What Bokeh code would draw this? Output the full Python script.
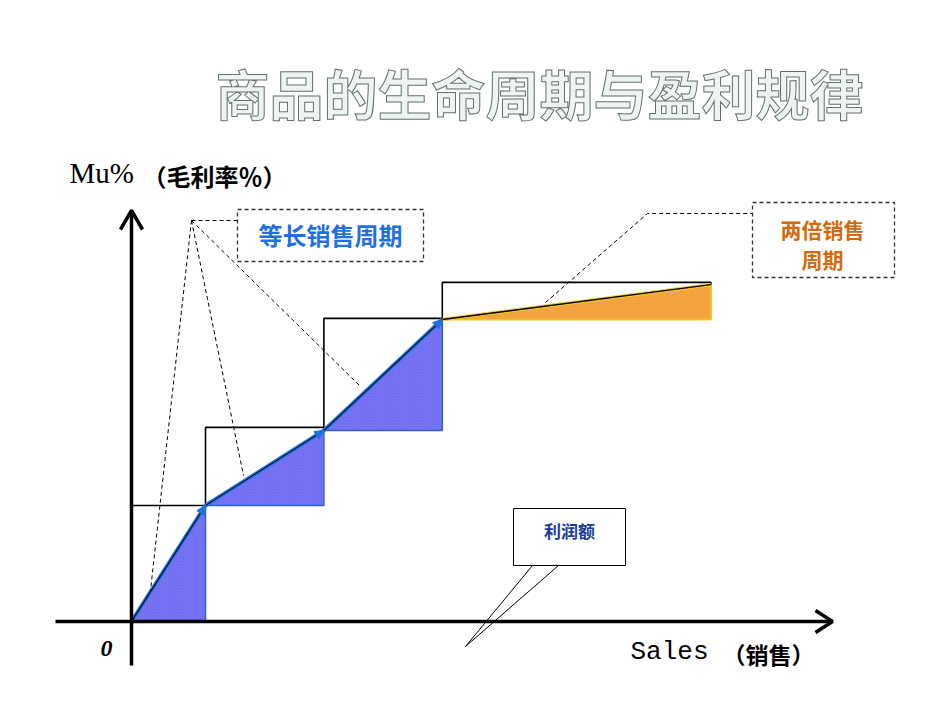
from bokeh.plotting import figure
from bokeh.models import Range1d, Label, ColumnDataSource, Arrow, NormalHead
from bokeh.embed import file_html
from bokeh.resources import INLINE

# product life cycle: sales at the end of each cycle, margin reached
sales = [0, 10, 26, 42, 78.3]
margin = [0, 30, 49.4, 78.1, 87.1]
cycle_top = [30, 50.2, 78.4, 87.7]

title_text = "商品的生命周期与盈利规律"
y_label = "Mu%"
y_label_cn = "（毛利率％）"
x_label = "Sales"
x_label_cn = "（销售）"
equal_label = "等长销售周期"
double_label = ["两倍销售", "周期"]
profit_label = "利润额"

# page layout helpers (page pixels -> data units)
kx, ky = 7.4, 116 / 30.0
def X(px):
    return (px - 131) / kx
def Y(py):
    return (621 - py) / ky

W, H = 934, 697
p = figure(width=W, height=H, x_range=Range1d(X(0), X(W)), y_range=Range1d(Y(H), Y(0)),
           output_backend="svg", toolbar_location=None, min_border=0)
p.axis.visible = False
p.grid.visible = False
p.outline_line_color = None
p.background_fill_color = "white"

n = len(sales) - 1
xs = [[sales[i], sales[i + 1], sales[i + 1]] for i in range(n)]
ys = [[margin[i], margin[i + 1], margin[i]] for i in range(n)]

# profit triangles
p.patches(xs[:3], ys[:3], fill_color="#6b6bf2", line_color="#2a62d8", line_width=1.5,
          hatch_pattern="/", hatch_color="#8f80f4", hatch_scale=3, hatch_weight=0.5)
p.patch(xs[3], ys[3], fill_color="#f39a3c", line_color="#f2c21b", line_width=2,
        hatch_pattern="/", hatch_color="#f5b845", hatch_scale=3, hatch_weight=0.5)

# cycle boxes
bx = [[sales[i], sales[i], sales[i + 1], sales[i + 1]] for i in range(n)]
by = [[margin[i], cycle_top[i], cycle_top[i], margin[i + 1]] for i in range(n)]
p.multi_line(bx, by, line_color="black", line_width=1.6)

# margin growth lines
p.segment(sales[:3], margin[:3], sales[1:4], margin[1:4], line_color="#2b7be6", line_width=4)
p.segment(sales[:3], margin[:3], sales[1:4], margin[1:4], line_color="#0d1a40", line_width=1.4)
p.segment(sales[3:4], margin[3:4], sales[4:], margin[4:], line_color="#f5c92a", line_width=3.5)
p.segment(sales[3:4], margin[3:4], sales[4:], margin[4:], line_color="black", line_width=1.3)

src = ColumnDataSource(dict(x0=sales[:3], y0=margin[:3], x1=sales[1:4], y1=margin[1:4]))
p.add_layout(Arrow(end=NormalHead(size=9, fill_color="#1e6fe0", line_color="#1e6fe0"),
                   x_start="x0", y_start="y0", x_end="x1", y_end="y1", source=src, line_alpha=0))

# axes with open arrow heads
p.line([0, 0], [Y(665), Y(211)], line_color="black", line_width=3.5)
p.line([X(120), 0, X(142)], [Y(229), Y(210), Y(229)], line_color="black", line_width=3.5)
p.line([X(55), X(831)], [0, 0], line_color="black", line_width=3.5)
p.line([X(815), X(832), X(815)], [Y(610), 0, Y(632)], line_color="black", line_width=3.5)

# leader lines
for ex, ey in [(150, 590), (243, 475), (360, 386)]:
    p.line([X(191), X(ex)], [Y(220), Y(ey)], line_color="black", line_width=1, line_dash="4 3")
p.line([X(191), X(237)], [Y(220), Y(220)], line_color="black", line_width=1, line_dash="4 3")
p.line([X(545), X(647), X(752)], [Y(302), Y(213), Y(213)], line_color="black", line_width=1, line_dash="4 3")

# dashed callout boxes
p.quad(left=[X(237), X(752)], right=[X(423), X(894)], top=[Y(209), Y(202)], bottom=[Y(261), Y(277)],
       fill_color=None, line_color="#333333", line_width=1.3, line_dash="4 3")

# speech bubble
p.quad(left=X(513), right=X(625), top=Y(508), bottom=Y(565), fill_color="white", line_color="black", line_width=1)
p.line([X(532), X(465), X(558)], [Y(565), Y(646), Y(565)], line_color="black", line_width=1)

cjk = "Noto Sans CJK SC"
def label(x, y, text, size, color="black", font=cjk, style="bold", align="left", **kw):
    p.add_layout(Label(x=X(x), y=Y(y), text=text, text_font=font, text_font_size=size,
                       text_color=color, text_font_style=style, text_align=align,
                       text_baseline="middle", **kw))

label(539, 92, title_text, "54px", color="#eef3f3", style="bold", align="center",
      text_outline_color="#66726f")
label(69, 172, y_label, "29px", font="Liberation Serif", style="normal")
label(214, 175, y_label_cn, "24px", align="center")
label(106, 648, "0", "24px", font="Liberation Serif", style="bold italic", align="center")
label(630, 651, x_label, "26px", font="Liberation Mono", style="normal")
label(768, 653, x_label_cn, "23px", align="center")
label(330, 234, equal_label, "24px", color="#1f6fe5", align="center")
label(822, 228, double_label[0], "21px", color="#d46a0c", align="center")
label(822, 258, double_label[1], "21px", color="#d46a0c", align="center")
label(569, 530, profit_label, "17px", color="#1b3c96", align="center")

open("out.html", "w").write(file_html(p, INLINE))
